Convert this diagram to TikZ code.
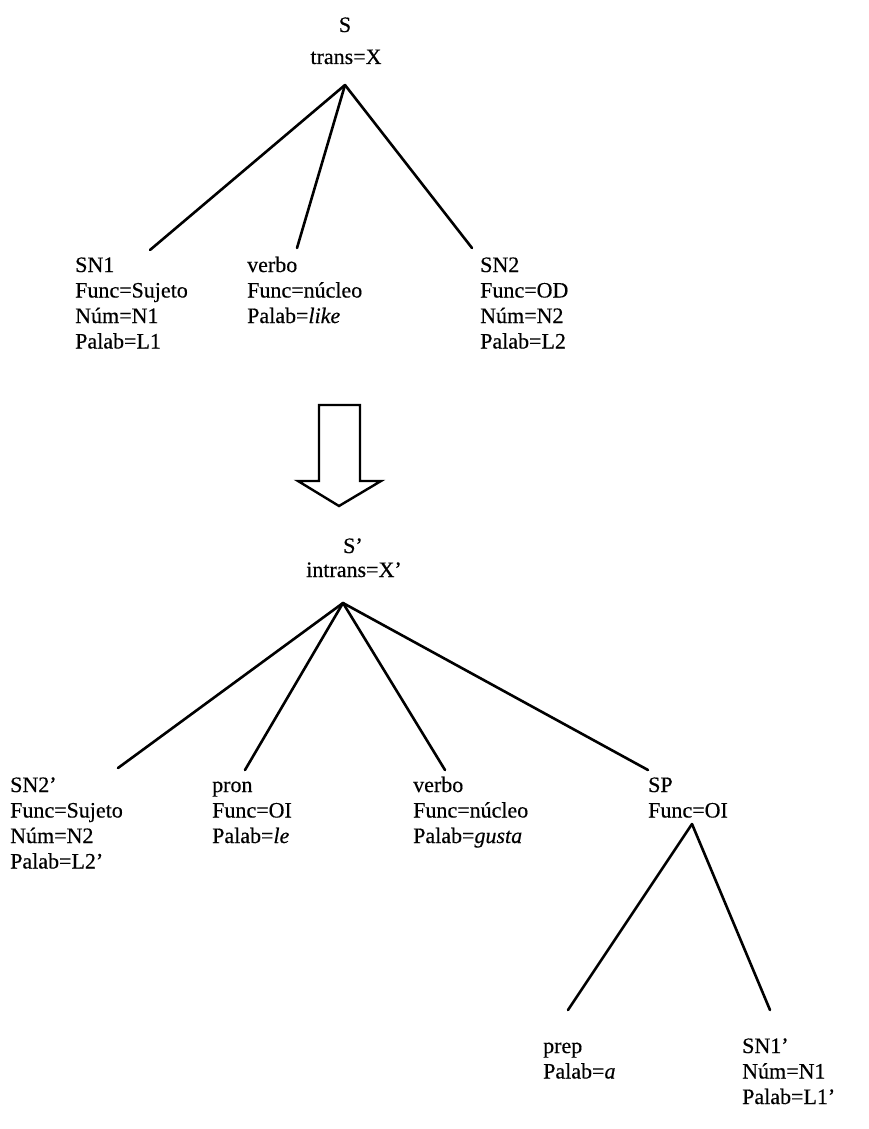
\documentclass[tikz,border=0pt]{standalone}
\usepackage{fontspec}
\setmainfont{Liberation Serif}[FakeBold=0.4]
% a left-aligned stack of feature lines, its baseline on the first line
\newcommand\featstack[1]{\begin{tabular}[t]{@{}l@{}}#1\end{tabular}}
\begin{document}
\begin{tikzpicture}[x=1pt,y=-1pt,
  feat/.style={anchor=base west, inner sep=0pt,
    font=\fontsize{22}{25.5}\selectfont},
  head/.style={anchor=base, inner sep=0pt, font=\fontsize{22}{24}\selectfont},
  branch/.style={line width=2.6pt, line cap=round},
  bigarrow/.style={line width=2.4pt, line join=miter, fill=white}]
\useasboundingbox (0,0) rectangle (868,1129);

% ---- source structure ----
\node[head] (S)  at (345,32) {S};
\node[head] (Sf) at (346,64) {trans=X};
\coordinate (Stop) at (345,85);

\node[feat] (sn1) at (75,272)  {\featstack{SN1\\Func=Sujeto\\Núm=N1\\Palab=L1}};
\node[feat] (vb1) at (247,272) {\featstack{verbo\\Func=núcleo\\Palab=\textit{like}}};
\node[feat] (sn2) at (480,272) {\featstack{SN2\\Func=OD\\Núm=N2\\Palab=L2}};

\coordinate (sn1t) at (150,250);
\coordinate (vb1t) at (297,248);
\coordinate (sn2t) at (472,248);
\draw[branch] (Stop) -- (sn1t);
\draw[branch] (Stop) -- (vb1t);
\draw[branch] (Stop) -- (sn2t);

% ---- transfer arrow ----
\draw[bigarrow] (319,405) -- (360,405) -- (360,481) -- (381,481)
  -- (339,506) -- (298,481) -- (319,481) -- cycle;

% ---- target structure ----
\node[head] (T)  at (353,553) {S’};
\node[head] (Tf) at (354,577) {intrans=X’};
\coordinate (Ttop) at (343,603);

\node[feat] (sn2p) at (10,792)  {\featstack{SN2’\\Func=Sujeto\\Núm=N2\\Palab=L2’}};
\node[feat] (pron) at (212,792) {\featstack{pron\\Func=OI\\Palab=\textit{le}}};
\node[feat] (vb2)  at (413,792) {\featstack{verbo\\Func=núcleo\\Palab=\textit{gusta}}};
\node[feat] (sp)   at (648,792) {\featstack{SP\\Func=OI}};

\coordinate (sn2pt) at (118,768);
\coordinate (pront) at (245,770);
\coordinate (vb2t)  at (445,770);
\coordinate (spt)   at (648,770);
\draw[branch] (Ttop) -- (sn2pt);
\draw[branch] (Ttop) -- (pront);
\draw[branch] (Ttop) -- (vb2t);
\draw[branch] (Ttop) -- (spt);

% ---- prepositional phrase ----
\coordinate (sptop) at (692,824);
\node[feat] (prep) at (543,1053) {\featstack{prep\\Palab=\textit{a}}};
\node[feat] (sn1p) at (742,1053) {\featstack{SN1’\\Núm=N1\\Palab=L1’}};
\coordinate (prept) at (568,1010);
\coordinate (sn1pt) at (770,1010);
\draw[branch] (sptop) -- (prept);
\draw[branch] (sptop) -- (sn1pt);
\end{tikzpicture}
\end{document}
